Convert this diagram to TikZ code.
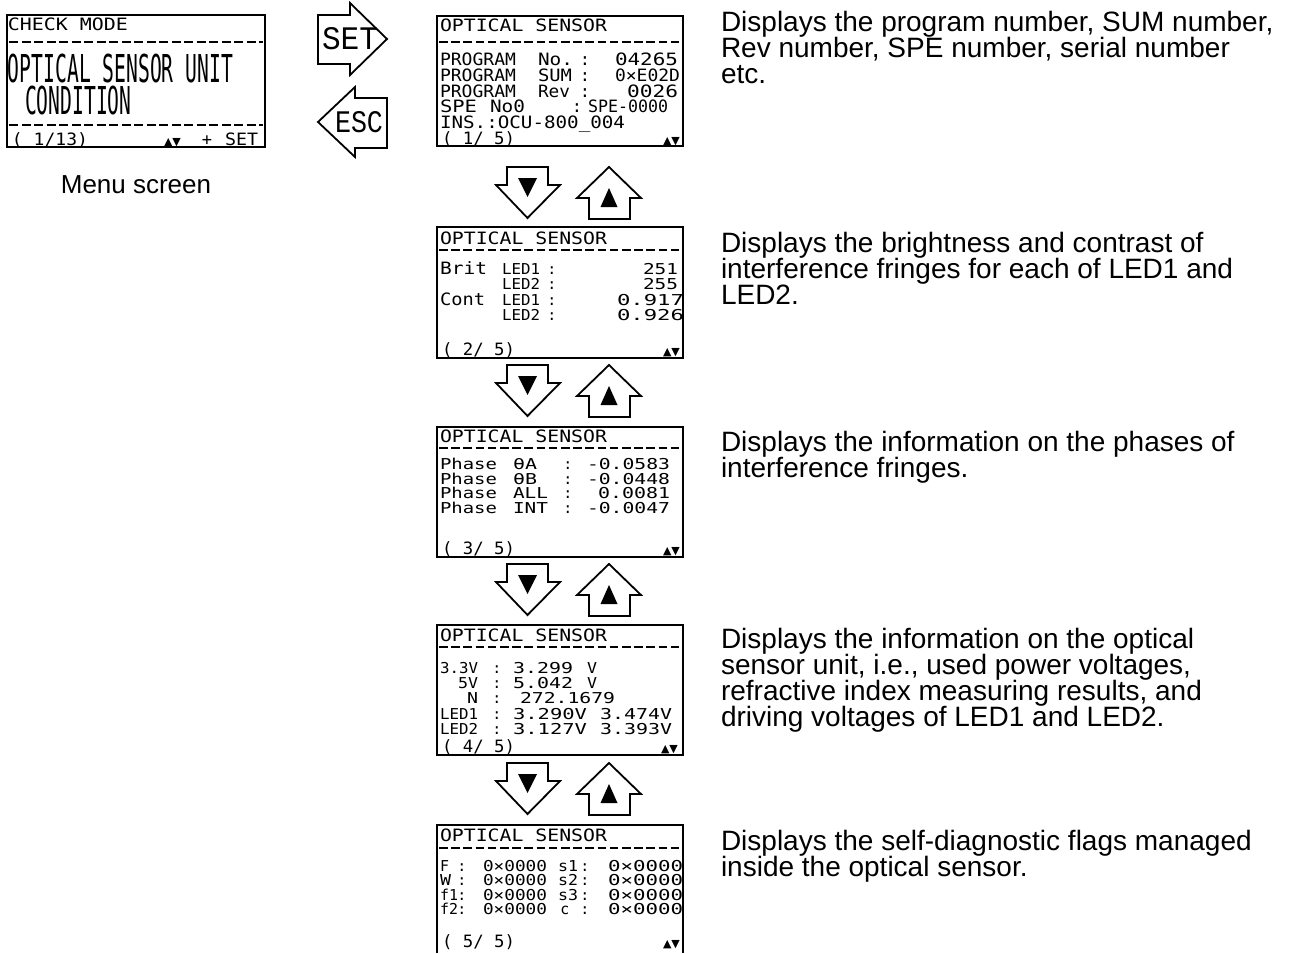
\documentclass[tikz,border=0pt]{standalone}
\usepackage{fontspec}
\usepackage{graphicx}
\setmainfont{Liberation Sans}
\newfontfamily\lcdfont{DejaVu Sans Mono}
\newfontfamily\keyfont{Liberation Mono}
\newfontfamily\symfont{DejaVu Sans}
\newcounter{fld}
\newcommand\fld[5][]{\stepcounter{fld}\pgfmathsetmacro\fldw{#3-#2}\node[lcdtxt,#1] (fld\arabic{fld}) at (#2,#4) {\resizebox{\fldw pt}{\height}{#5}};}
\newcommand\fch[4][]{\stepcounter{fld}\node[lcdtxt,anchor=base,#1] (fld\arabic{fld}) at (#2,#3) {#4};}
\newcommand\updn[2]{\stepcounter{fld}\node[symtxt] (fld\arabic{fld}) at (#1,#2) {▲▼};}
\newcommand\navpair[1]{%
  \draw[navarrow] (507,#1) -- (548,#1) -- (548,#1+18) -- (560,#1+18) -- (527.5,#1+51) -- (496,#1+18) -- (507,#1+18) -- cycle;
  \fill[navmark] (518,#1+11) -- (537,#1+11) -- (527.5,#1+30) -- cycle;
  \draw[navarrow] (609,#1) -- (641,#1+31) -- (630,#1+31) -- (630,#1+52) -- (589,#1+52) -- (589,#1+31) -- (577,#1+31) -- cycle;
  \fill[navmark] (600.5,#1+40) -- (617.5,#1+40) -- (609,#1+21) -- cycle;
}
\newcommand\desclines[1]{\vtop{\lineskiplimit=-100pt\relax #1}}
\begin{document}
\begin{tikzpicture}[x=1pt,y=-1pt,
  lcdbox/.style={draw=black,line width=2.2pt},
  lcdtxt/.style={inner sep=0pt,outer sep=0pt,anchor=base west,font=\lcdfont\fontsize{17}{17}\selectfont},
  lcdsm/.style={font=\lcdfont\fontsize{15}{15}\selectfont},
  symtxt/.style={inner sep=0pt,outer sep=0pt,anchor=base west,font=\symfont\fontsize{11}{11}\selectfont},
  sepline/.style={line width=1.3pt,dash pattern=on 8.5pt off 3.7pt},
  navarrow/.style={draw=black,line width=1.8pt,fill=white,line join=miter},
  navmark/.style={fill=black},
  keyarrow/.style={draw=black,line width=1.8pt,fill=white,line join=miter},
  keytxt/.style={inner sep=0pt,outer sep=0pt,font=\keyfont\fontsize{32}{32}\selectfont},
  desc/.style={inner sep=0pt,outer sep=0pt,anchor=base west,font=\fontsize{28}{26}\selectfont},
]
\useasboundingbox (0,0) rectangle (1295,953);
\fill[white] (0,0) rectangle (1295,953);

% ---------- menu screen ----------
\draw[lcdbox] (7,15) rectangle (265,147);
\fld{8}{128}{30}{CHECK MODE}
\draw[sepline,dash pattern=on 9pt off 3.5pt] (9,42) -- (263,42);
\node[lcdtxt] (menutitle) at (8,82) {\scalebox{1.157}[2.26]{\vtop{\baselineskip=14.16pt\lineskiplimit=-100pt\relax
  \hbox{OPTICAL SENSOR UNIT}\hbox{\hspace*{14.7pt}CONDITION}}}};
\draw[sepline,dash pattern=on 9pt off 3.5pt] (9,125) -- (263,125);
\fld{12}{88}{145}{( 1/13)}
\updn{164}{145}
\fch{207}{145}{+}
\fld{225}{258}{145}{SET}
\node[inner sep=0pt,anchor=base,font=\fontsize{26}{26}\selectfont] (menulabel) at (136,193) {Menu screen};

% ---------- SET / ESC keys ----------
\draw[keyarrow] (318,15) -- (350,15) -- (350,3) -- (387,39) -- (350,75) -- (350,64) -- (318,64) -- cycle;
\node[keytxt] (settxt) at (350,39) {\resizebox{56pt}{22pt}{SET}};
\draw[keyarrow] (318,122) -- (355,87) -- (355,98) -- (387,98) -- (387,148) -- (355,148) -- (355,157) -- cycle;
\node[keytxt] (esctxt) at (359,122.5) {\resizebox{48pt}{21pt}{ESC}};

% ---------- screen 1 ----------
\draw[lcdbox] (437,16) rectangle (683,146);
\fld{440}{607}{31}{OPTICAL SENSOR}
\draw[sepline] (439,42) -- (681,42);
\fld{440}{516}{65}{PROGRAM}
\fld{538}{573}{65}{No.}
\fch{585}{65}{:}
\fld{615}{678}{65}{04265}
\fld{440}{516}{81}{PROGRAM}
\fld{538}{572}{81}{SUM}
\fch{585}{81}{:}
\fld{615}{680}{81}{0×E02D}
\fld{440}{516}{97}{PROGRAM}
\fld{538}{570}{97}{Rev}
\fch{585}{97}{:}
\fld{627}{678}{97}{0026}
\fld{440}{477}{112.5}{SPE}
\fld{490}{525}{112.5}{No0}
\fch{577}{112.5}{:}
\fld{588}{668}{112.5}{SPE-0000}
\fld{440}{625}{128}{INS.:OCU-800\_004}
\fld{442}{515}{144}{( 1/ 5)}
\updn{663}{144}

\navpair{167}

% ---------- screen 2 ----------
\draw[lcdbox] (437,227) rectangle (683,358);
\fld{440}{607}{244}{OPTICAL SENSOR}
\draw[sepline] (439,250) -- (681,250);
\fld{440}{487}{274}{Brit}
\fld[lcdsm]{502}{540}{274}{LED1}
\fch[lcdsm]{552}{274}{:}
\fld[lcdsm]{643}{678}{274}{251}
\fld[lcdsm]{502}{540}{289}{LED2}
\fch[lcdsm]{552}{289}{:}
\fld[lcdsm]{643}{678}{289}{255}
\fld{440}{485}{305}{Cont}
\fld[lcdsm]{502}{540}{305}{LED1}
\fch[lcdsm]{552}{305}{:}
\fld[lcdsm]{617}{684}{305}{0.917}
\fld[lcdsm]{502}{540}{320}{LED2}
\fch[lcdsm]{552}{320}{:}
\fld[lcdsm]{617}{684}{320}{0.926}
\fld{442}{515}{355}{( 2/ 5)}
\updn{663}{355}

\navpair{365}

% ---------- screen 3 ----------
\draw[lcdbox] (437,427) rectangle (683,557);
\fld{440}{607}{442}{OPTICAL SENSOR}
\draw[sepline] (439,448) -- (681,448);
\fld[lcdsm]{440}{497}{469}{Phase}
\fld[lcdsm]{513}{537}{469}{θA}
\fch[lcdsm]{568}{469}{:}
\fld[lcdsm]{587}{670}{469}{-0.0583}
\fld[lcdsm]{440}{497}{484}{Phase}
\fld[lcdsm]{513}{537}{484}{θB}
\fch[lcdsm]{568}{484}{:}
\fld[lcdsm]{587}{670}{484}{-0.0448}
\fld[lcdsm]{440}{497}{498.5}{Phase}
\fld[lcdsm]{513}{548}{498.5}{ALL}
\fch[lcdsm]{568}{498.5}{:}
\fld[lcdsm]{598}{670}{498.5}{0.0081}
\fld[lcdsm]{440}{497}{513}{Phase}
\fld[lcdsm]{513}{548}{513}{INT}
\fch[lcdsm]{568}{513}{:}
\fld[lcdsm]{587}{670}{513}{-0.0047}
\fld{442}{515}{554.5}{( 3/ 5)}
\updn{663}{554.5}

\navpair{564}

% ---------- screen 4 ----------
\draw[lcdbox] (437,625) rectangle (683,755);
\fld{440}{607}{641}{OPTICAL SENSOR}
\draw[sepline] (439,647) -- (681,647);
\fld[lcdsm]{440}{478}{673}{3.3V}
\fch[lcdsm]{497}{673}{:}
\fld[lcdsm]{513}{573}{673}{3.299}
\fld[lcdsm]{587}{597}{673}{V}
\fld[lcdsm]{458}{478}{688}{5V}
\fch[lcdsm]{497}{688}{:}
\fld[lcdsm]{513}{573}{688}{5.042}
\fld[lcdsm]{587}{597}{688}{V}
\fld[lcdsm]{467}{478}{703}{N}
\fch[lcdsm]{497}{703}{:}
\fld[lcdsm]{520}{615}{703}{272.1679}
\fld[lcdsm]{440}{478}{719}{LED1}
\fch[lcdsm]{497}{719}{:}
\fld[lcdsm]{513}{587}{719}{3.290V}
\fld[lcdsm]{600}{672}{719}{3.474V}
\fld[lcdsm]{440}{478}{734.5}{LED2}
\fch[lcdsm]{497}{734.5}{:}
\fld[lcdsm]{513}{587}{734.5}{3.127V}
\fld[lcdsm]{600}{672}{734.5}{3.393V}
\fld{442}{515}{752}{( 4/ 5)}
\updn{661}{752}

\navpair{763}

% ---------- screen 5 ----------
\draw[lcdbox] (437,953) -- (437,825) -- (683,825) -- (683,953);
\fld{440}{607}{841}{OPTICAL SENSOR}
\draw[sepline] (439,848) -- (681,848);
\fld[lcdsm]{440}{449}{871}{F}
\fch[lcdsm]{462}{871}{:}
\fld[lcdsm]{483}{547}{871}{0×0000}
\fld[lcdsm]{558}{578}{871}{s1}
\fch[lcdsm]{585}{871}{:}
\fld[lcdsm]{608}{683}{871}{0×0000}
\fld[lcdsm]{440}{451}{885.5}{W}
\fch[lcdsm]{462}{885.5}{:}
\fld[lcdsm]{483}{547}{885.5}{0×0000}
\fld[lcdsm]{558}{578}{885.5}{s2}
\fch[lcdsm]{585}{885.5}{:}
\fld[lcdsm]{608}{683}{885.5}{0×0000}
\fld[lcdsm]{440}{458}{900}{f1}
\fch[lcdsm]{462}{900}{:}
\fld[lcdsm]{483}{547}{900}{0×0000}
\fld[lcdsm]{558}{578}{900}{s3}
\fch[lcdsm]{585}{900}{:}
\fld[lcdsm]{608}{683}{900}{0×0000}
\fld[lcdsm]{440}{458}{914.5}{f2}
\fch[lcdsm]{462}{914.5}{:}
\fld[lcdsm]{483}{547}{914.5}{0×0000}
\fch[lcdsm]{565}{914.5}{c}
\fch[lcdsm]{585}{914.5}{:}
\fld[lcdsm]{608}{683}{914.5}{0×0000}
\fld{442}{515}{947}{( 5/ 5)}
\updn{663}{947}

% ---------- descriptions ----------
\node[desc] (desc1) at (721,31) {\desclines{\hbox{Displays the program number, SUM number,}\hbox{Rev number, SPE number, serial number}\hbox{etc.}}};
\node[desc] (desc2) at (721,252) {\desclines{\hbox{Displays the brightness and contrast of}\hbox{interference fringes for each of LED1 and}\hbox{LED2.}}};
\node[desc] (desc3) at (721,451) {\desclines{\hbox{Displays the information on the phases of}\hbox{interference fringes.}}};
\node[desc] (desc4) at (721,648) {\desclines{\hbox{Displays the information on the optical}\hbox{sensor unit, i.e., used power voltages,}\hbox{refractive index measuring results, and}\hbox{driving voltages of LED1 and LED2.}}};
\node[desc] (desc5) at (721,850) {\desclines{\hbox{Displays the self-diagnostic flags managed}\hbox{inside the optical sensor.}}};
\end{tikzpicture}
\end{document}
